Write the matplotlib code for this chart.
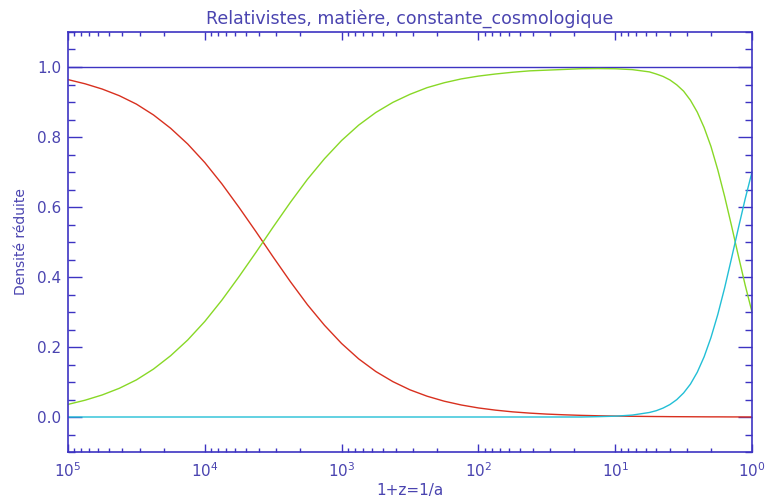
#Densites reduites : relativistes, matiere, constante cosmologique
import numpy as np
import matplotlib
matplotlib.use("Agg")
import matplotlib.pyplot as plt
from matplotlib.ticker import LogLocator, NullFormatter, MultipleLocator

#values (log10 of 1+z, then the three reduced densities)
log_1pz = [5.0, 4.875, 4.75, 4.625, 4.5, 4.375, 4.25, 4.125, 4.0, 3.875, 3.75, 3.625,
           3.5, 3.375, 3.25, 3.125, 3.0, 2.875, 2.75, 2.625, 2.5, 2.375, 2.25, 2.125,
           2.0, 1.875, 1.75, 1.625, 1.5, 1.375, 1.25, 1.125, 1.0, 0.875, 0.75,
           0.7, 0.65, 0.6, 0.55, 0.5, 0.45, 0.4, 0.35, 0.3, 0.25, 0.2, 0.15, 0.1, 0.05, 0.0]

relativistes = [0.964, 0.952, 0.937, 0.918, 0.894, 0.863, 0.825, 0.780, 0.727, 0.666, 0.599, 0.529,
                0.457, 0.387, 0.321, 0.262, 0.210, 0.166, 0.130, 0.101, 0.0776, 0.0594, 0.0452, 0.0343,
                0.0259, 0.0196, 0.0147, 0.0111, 0.0083, 0.0063, 0.0047, 0.0035, 0.0027, 0.0020, 0.0015,
                0.0013, 0.0012, 0.0010, 0.0009, 0.0008, 0.0007, 0.0006, 0.0005, 0.0004, 0.0004,
                0.0003, 0.0002, 0.0002, 0.0001, 0.0001]

matiere = [0.036, 0.048, 0.063, 0.082, 0.106, 0.137, 0.175, 0.220, 0.273, 0.334, 0.401, 0.471,
           0.543, 0.613, 0.679, 0.738, 0.790, 0.834, 0.870, 0.899, 0.922, 0.941, 0.955, 0.966,
           0.974, 0.980, 0.985, 0.989, 0.991, 0.993, 0.995, 0.9955, 0.995, 0.9925, 0.986,
           0.980, 0.973, 0.963, 0.949, 0.931, 0.905, 0.871, 0.827, 0.773, 0.706,
           0.630, 0.547, 0.461, 0.377, 0.300]

constante = [0.0] * 31 + [0.001, 0.0023, 0.0055, 0.0129,
                          0.018, 0.0255, 0.0356, 0.0496, 0.0687, 0.094, 0.128, 0.172, 0.227, 0.293,
                          0.369, 0.453, 0.539, 0.623, 0.700]

total = 1.0

axis_col = "#3d33c2"
text_col = "#4a44b0"

x = 10.0 ** np.array(log_1pz)

fig = plt.figure(figsize=(7.67, 5), dpi=100)
ax = fig.add_axes([68 / 767, 48 / 500, 684 / 767, 420 / 500])

ax.axhline(total, color=axis_col, lw=1.0)
ax.plot(x, relativistes, color="#d8301f", lw=1.0)
ax.plot(x, matiere, color="#88d826", lw=1.0)
ax.plot(x, constante, color="#22bfd6", lw=1.0)

ax.set_xscale("log")
ax.set_xlim(1e5, 1e0)
ax.set_ylim(-0.1, 1.1)

ax.xaxis.set_major_locator(LogLocator(base=10, numticks=10))
ax.xaxis.set_minor_locator(LogLocator(base=10, subs=np.arange(2, 10), numticks=20))
ax.xaxis.set_minor_formatter(NullFormatter())
ax.yaxis.set_major_locator(MultipleLocator(0.2))
ax.yaxis.set_minor_locator(MultipleLocator(0.05))
ax.yaxis.set_major_formatter(matplotlib.ticker.FormatStrFormatter("%.1f"))

ax.tick_params(axis="both", which="both", direction="in", top=True, right=True,
               color=axis_col, labelcolor=text_col, labelsize=11, width=1.0)
ax.tick_params(axis="x", which="major", length=6, pad=7)
ax.tick_params(axis="x", which="minor", length=3)
ax.tick_params(axis="y", which="major", length=10, pad=5)
ax.tick_params(axis="y", which="minor", length=5)

for s in ax.spines.values():
    s.set_color(axis_col)
    s.set_linewidth(1.2)

ax.set_title("Relativistes, matière, constante_cosmologique", color=text_col, fontsize=12.5, pad=6)
ax.set_xlabel("1+z=1/a", color=text_col, fontsize=11, labelpad=2)
ax.set_ylabel("Densité réduite", color=text_col, fontsize=10, labelpad=6)

fig.savefig("out.png", dpi=100)
